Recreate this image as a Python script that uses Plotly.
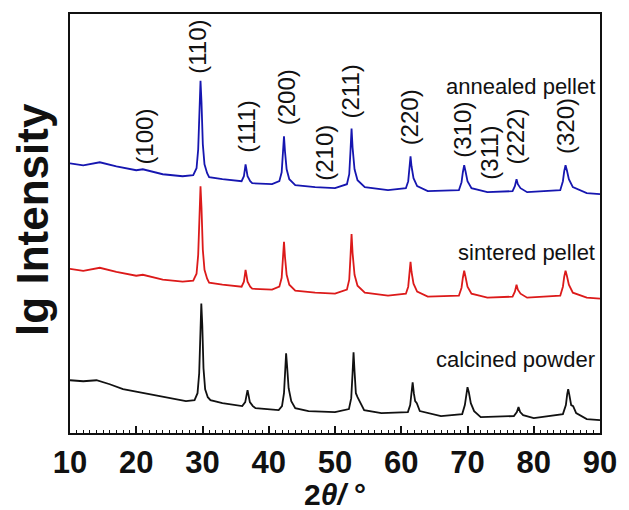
import plotly.graph_objects as go

# ---- data (2θ in degrees, lg intensity in arbitrary offset units) ----
annealed_x = [10.0, 12.0, 14.5, 17.0, 20.0, 21.0, 24.0, 27.0,
              28.6, 29.1, 29.35, 29.55, 29.7, 29.85, 30.05, 30.3, 30.7, 31.0,
              33.0,
              35.9, 36.25, 36.42, 36.5, 36.6, 36.8, 37.2, 37.5,
              40.5,
              41.6, 41.95, 42.15, 42.3, 42.45, 42.7, 43.1, 44.0,
              47.0, 50.0,
              51.8, 52.15, 52.35, 52.5, 52.65, 52.95, 53.4, 54.5,
              58.0,
              60.7, 61.05, 61.25, 61.4, 61.55, 61.85, 62.4, 64.0,
              68.7, 69.1, 69.3, 69.5, 69.7, 70.0, 70.6, 73.0,
              76.8, 77.15, 77.4, 77.6, 78.0, 79.0,
              84.0, 84.4, 84.6, 84.8, 85.0, 85.3, 85.9, 88.0, 90.0]
annealed_y = [271, 269, 272, 268, 264, 265, 260, 258,
              259, 266, 285, 330, 354, 332, 290, 270, 261, 257,
              255,
              253, 258, 266, 270, 266, 258, 253, 251,
              250,
              253, 262, 282, 298, 283, 265, 255, 249,
              247, 246,
              250, 260, 285, 306, 287, 265, 254, 247,
              244,
              246, 253, 267, 278, 268, 256, 248, 243,
              244, 252, 262, 269, 263, 253, 246, 242,
              243, 248, 255, 250, 246, 242,
              244, 253, 263, 269, 264, 255, 247, 241, 240]

sintered_x = annealed_x
sintered_y = [165, 163, 166, 162, 158, 159, 154, 152,
              153, 160, 179, 224, 248, 226, 184, 164, 155, 151,
              149,
              147, 152, 160, 164, 160, 152, 147, 145,
              144,
              147, 156, 176, 192, 177, 159, 149, 143,
              141, 140,
              144, 154, 179, 200, 181, 159, 148, 141,
              138,
              140, 147, 161, 172, 162, 150, 142, 137,
              138, 146, 156, 163, 157, 147, 140, 136,
              137, 142, 149, 144, 140, 136,
              138, 147, 157, 163, 158, 149, 141, 136, 135]

calcined_x = [10.0, 12.0, 14.0, 16.0, 18.0, 21.0, 24.0, 27.5,
              28.8, 29.25, 29.5, 29.68, 29.82, 29.97, 30.15, 30.4, 30.8, 31.2,
              33.0, 36.0,
              36.45, 36.68, 36.8, 36.92, 37.15, 37.6, 38.0,
              41.5,
              42.0, 42.3, 42.48, 42.62, 42.78, 43.0, 43.4, 44.0,
              46.0, 50.0,
              52.1, 52.45, 52.65, 52.8, 52.95, 53.15, 53.4, 53.7, 54.4,
              57.0,
              61.0, 61.35, 61.55, 61.72, 61.9, 62.1, 62.35, 62.8,
              66.0,
              69.2, 69.6, 69.85, 70.0, 70.2, 70.5, 71.0, 72.0,
              77.0, 77.45, 77.7, 77.95, 78.4, 80.0,
              84.4, 84.85, 85.05, 85.2, 85.38, 85.65, 85.95, 86.4, 88.0, 90.0]
calcined_y = [53, 52, 53, 49, 44, 40, 36, 32,
              33, 40, 60, 105, 130, 108, 65, 44, 36, 33,
              30, 27,
              31, 39, 43, 39, 31, 27, 25,
              23,
              27, 40, 65, 80, 66, 45, 32, 25,
              22, 21,
              24, 35, 60, 81, 62, 40, 36, 32, 23,
              20,
              21, 28, 42, 51, 40, 32, 30, 22,
              17,
              19, 28, 40, 46, 41, 30, 22, 16,
              17, 21, 26, 21, 18, 15,
              19, 28, 39, 44, 38, 28, 27, 20, 14, 13]

peak_labels = ["(100)", "(110)", "(111)", "(200)", "(210)", "(211)", "(220)", "(310)", "(311)", "(222)", "(320)"]
peak_label_x = [21.2, 29.3, 36.6, 42.7, 48.4, 52.4, 61.3, 69.2, 73.3, 77.2, 84.8]
peak_label_y = [298, 388, 308, 337, 282, 343, 317, 305, 282, 298, 308]

sample_names = ["annealed pellet", "sintered pellet", "calcined powder"]
sample_label_y = [348, 181, 74]
x_ticks = [10, 20, 30, 40, 50, 60, 70, 80, 90]

FONT = "Liberation Sans, Arial, sans-serif"

fig = go.Figure()
for xs, ys, col, name in [(calcined_x, calcined_y, "#111111", sample_names[2]),
                          (sintered_x, sintered_y, "#dc1a1a", sample_names[1]),
                          (annealed_x, annealed_y, "#1616b0", sample_names[0])]:
    fig.add_trace(go.Scatter(x=xs, y=ys, mode="lines", name=name,
                             line=dict(color=col, width=1.8), showlegend=False))

for t, px, py in zip(peak_labels, peak_label_x, peak_label_y):
    fig.add_annotation(x=px, y=py, xref="x", yref="y", text=t, textangle=-90, showarrow=False,
                       font=dict(family=FONT, size=24, color="#111111"),
                       xanchor="center", yanchor="middle")

for t, py in zip(sample_names, sample_label_y):
    fig.add_annotation(x=89.5, y=py, xref="x", yref="y", text=t, showarrow=False,
                       font=dict(family=FONT, size=22, color="#111111"),
                       xanchor="right", yanchor="middle")

fig.add_annotation(x=0.5, y=-0.146, xref="paper", yref="paper",
                   text="<b>2<i>θ/</i> °</b>", showarrow=False,
                   font=dict(family=FONT, size=30, color="#111111"),
                   xanchor="center", yanchor="middle")
fig.add_annotation(x=-0.0706, y=0.51, xref="paper", yref="paper",
                   text="<b>lg Intensity</b>", textangle=-90, showarrow=False,
                   font=dict(family=FONT, size=44, color="#111111"),
                   xanchor="center", yanchor="middle")

fig.update_layout(
    width=629, height=510,
    margin=dict(l=70, r=21, t=12, b=77),
    paper_bgcolor="white", plot_bgcolor="white",
    xaxis=dict(range=[10, 90], tickvals=x_ticks, ticks="inside", ticklen=7, tickwidth=1.5,
               tickcolor="#111111", showline=True, linewidth=1.5, linecolor="#111111", mirror=True,
               showgrid=False, zeroline=False,
               tickfont=dict(family=FONT, size=31, color="#111111", weight="bold"),
               ticklabelstandoff=1,
               minor=dict(dtick=1, ticks="inside", ticklen=3.5, tickwidth=1, tickcolor="#111111")),
    yaxis=dict(range=[0, 421], showticklabels=False, ticks="", showline=True, linewidth=1.5,
               linecolor="#111111", mirror=True, showgrid=False, zeroline=False),
)

fig.write_html("out.html")
